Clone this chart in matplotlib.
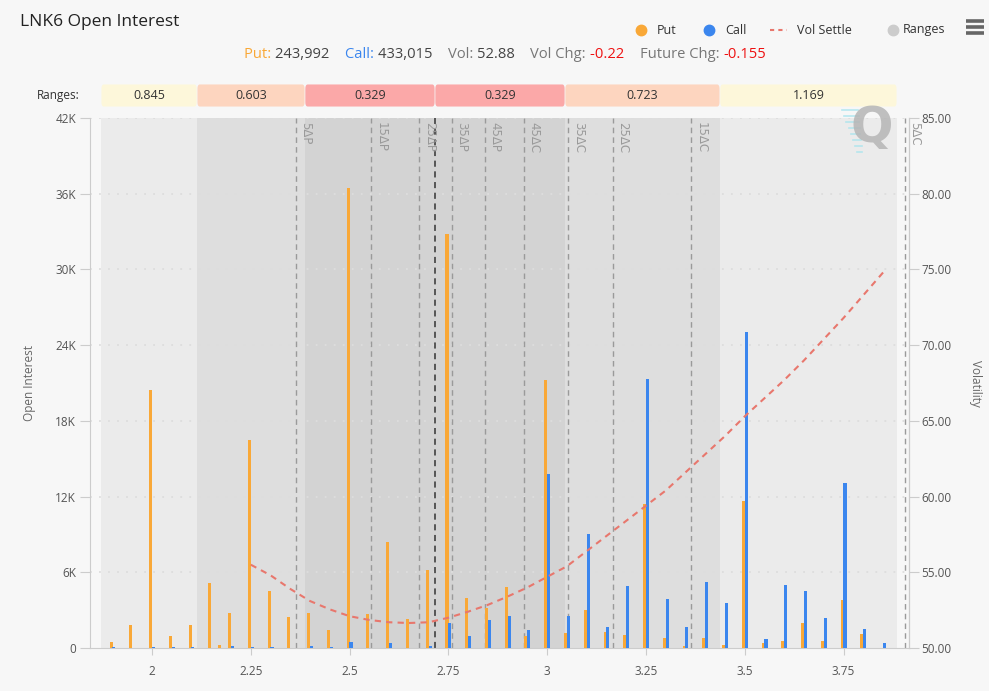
import matplotlib
matplotlib.use("Agg")
import matplotlib.pyplot as plt
from matplotlib.patches import FancyBboxPatch
from matplotlib.lines import Line2D
import matplotlib.transforms as mtransforms

plt.rcParams['font.family'] = ['Open Sans', 'DejaVu Sans']

# ---------------- data ----------------
strikes = [1.9, 1.95, 2.0, 2.05, 2.1, 2.15, 2.175, 2.2, 2.25, 2.3, 2.35, 2.4, 2.45,
           2.5, 2.55, 2.6, 2.65, 2.7, 2.75, 2.8, 2.85, 2.9, 2.95, 3.0, 3.05, 3.1,
           3.15, 3.2, 3.25, 3.3, 3.35, 3.4, 3.45, 3.5, 3.55, 3.6, 3.65, 3.7, 3.75,
           3.8, 3.85]
puts = [450, 1800, 20450, 980, 1800, 5170, 240, 2800, 16480, 4520, 2430, 2800, 1430,
        36450, 2700, 8400, 2300, 6180, 32800, 4000, 3140, 4800, 950, 21240, 1210, 3010,
        1270, 1060, 11400, 790, 160, 770, 240, 11670, 420, 530, 2000, 530, 3800,
        1110, 0]
calls = [60, 0, 80, 60, 60, 0, 0, 120, 60, 60, 0, 150, 80, 450, 0, 370, 0, 150, 1980,
         980, 2220, 2500, 1430, 13760, 2540, 9010, 1640, 4910, 21340, 3860, 1690, 5260,
         3540, 25070, 690, 4990, 4520, 2350, 13050, 1530, 370]

vol_strikes = [2.25, 2.3, 2.35, 2.4, 2.45, 2.5, 2.55, 2.6, 2.65, 2.7, 2.75, 2.8, 2.85,
               2.9, 2.95, 3.0, 3.05, 3.1, 3.15, 3.2, 3.25, 3.3, 3.35, 3.4, 3.45, 3.5,
               3.55, 3.6, 3.65, 3.7, 3.75, 3.8, 3.85]
vol_settle = [55.5, 54.8, 53.9, 53.1, 52.55, 52.1, 51.85, 51.7, 51.65, 51.7, 52.0, 52.4,
              52.85, 53.4, 54.0, 54.7, 55.4, 56.4, 57.4, 58.4, 59.4, 60.4, 61.6, 62.8,
              64.0, 65.3, 66.5, 67.7, 69.0, 70.4, 71.8, 73.3, 74.8]

range_edges = [1.871, 2.114, 2.387, 2.716, 3.045, 3.437, 3.885]
range_labels = ['0.845', '0.603', '0.329', '0.329', '0.723', '1.169']
range_box_colors = ['#fdf7da', '#fdd5bf', '#fba8a8', '#fba8a8', '#fdd5bf', '#fdf7da']
range_band_colors = ['#ebebeb', '#dedede', '#d3d3d3', '#d3d3d3', '#dedede', '#ebebeb']

delta_pos = [2.364, 2.554, 2.676, 2.759, 2.843, 2.941, 3.053, 3.166, 3.364, 3.905]
delta_labels = ['5ΔP', '15ΔP', '25ΔP', '35ΔP', '45ΔP', '45ΔC', '35ΔC', '25ΔC', '15ΔC', '5ΔC']
future_price = 2.716

oi_ticks = [0, 6000, 12000, 18000, 24000, 30000, 36000, 42000]
oi_tick_labels = ['0', '6K', '12K', '18K', '24K', '30K', '36K', '42K']
vol_ticks = [50, 55, 60, 65, 70, 75, 80, 85]
x_ticks = [2, 2.25, 2.5, 2.75, 3, 3.25, 3.5, 3.75]
x_tick_labels = ['2', '2.25', '2.5', '2.75', '3', '3.25', '3.5', '3.75']

# ---------------- figure ----------------
W, H = 989, 691
BG = '#f7f7f7'
PUT_C = '#f9a837'
CALL_C = '#3b86ee'
fig = plt.figure(figsize=(W / 100, H / 100), dpi=100, facecolor=BG)

def fx(px):
    return px / W

def fy(py):
    return 1 - py / H

L, R, T, B = 90, 909, 118, 648
ax = fig.add_axes([fx(L), fy(B), fx(R - L), fy(T) - fy(B)])
ax.set_facecolor(BG)
xmin, xmax = 1.8431, 3.9155
ax.set_xlim(xmin, xmax)
ax.set_ylim(0, 42000)

# bands
for i in range(len(range_labels)):
    ax.axvspan(range_edges[i], range_edges[i + 1], color=range_band_colors[i], lw=0, zorder=0)

# grid
for t in oi_ticks[1:]:
    ax.axhline(t, color='#dddddd', lw=1.3, ls=(0, (1, 4)), zorder=1)

# bars
bw = 0.0078
off = 0.0036
ax.bar([s - off for s in strikes], puts, width=bw, color=PUT_C, zorder=3, lw=0)
ax.bar([s + off for s in strikes], calls, width=bw, color=CALL_C, zorder=3, lw=0)

# delta lines
trans = mtransforms.blended_transform_factory(ax.transData, ax.transAxes)
for p, lab in zip(delta_pos, delta_labels):
    ax.axvline(p, color='#9a9a9a', lw=1, ls=(0, (4, 3)), zorder=2)
    ax.text(p + 0.009, 0.992, lab, transform=trans, rotation=-90, ha='left', va='top',
            fontsize=8.5, color='#9a9a9a', zorder=4, family=['DejaVu Sans'])
ax.axvline(future_price, color='#333333', lw=1.1, ls=(0, (4, 3)), zorder=2)

# axes styling
ax.spines['top'].set_visible(False)
ax.spines['left'].set_color('#cccccc')
ax.spines['bottom'].set_color('#cccccc')
ax.spines['right'].set_color('#cccccc')
ax.set_yticks(oi_ticks)
ax.set_yticklabels(oi_tick_labels)
ax.set_xticks(x_ticks)
ax.set_xticklabels(x_tick_labels)
ax.tick_params(axis='y', length=7, color='#cccccc', labelsize=8.5, labelcolor='#555555', pad=3)
ax.tick_params(axis='x', length=5, color='#cccccc', labelsize=8.5, labelcolor='#555555', pad=7)
ax.set_ylabel('Open Interest', fontsize=8.5, color='#666666', labelpad=14)

# volatility axis
ax2 = ax.twinx()
ax2.set_ylim(50, 85)
ax2.set_yticks(vol_ticks)
ax2.set_yticklabels([f'{v:.2f}' for v in vol_ticks])
ax2.tick_params(axis='y', length=7, color='#cccccc', labelsize=8.5, labelcolor='#555555', pad=2)
for side in ['top', 'left', 'bottom']:
    ax2.spines[side].set_visible(False)
ax2.spines['right'].set_color('#cccccc')
ax2.set_ylabel('Volatility', fontsize=8.5, color='#666666', rotation=-90, labelpad=22)
ax2.plot(vol_strikes, vol_settle, color='#e8776d', lw=1.5, ls=(0, (3, 2.5)), zorder=5)

# Q watermark
fig.text(fx(872), fy(128), 'Q', fontsize=36, fontweight='bold', color='#b5b5b5',
         ha='center', va='center', alpha=0.85, family=['DejaVu Sans'])
for k in range(8):
    y = 110 + k * 6
    x1 = 842 + k * 2.2
    fig.add_artist(Line2D([fx(x1), fx(x1 + 16 - k * 1.6)], [fy(y), fy(y)],
                          color='#a8e4ee', lw=1.2, alpha=0.8))

# ranges bar
rax = fig.add_axes([fx(L), fy(107), fx(R - L), fy(84) - fy(107)])
rax.set_xlim(xmin, xmax)
rax.set_ylim(0, 1)
rax.axis('off')
for i, lab in enumerate(range_labels):
    x0, x1 = range_edges[i], range_edges[i + 1]
    rax.add_patch(FancyBboxPatch((x0 + 0.001, 0.02), x1 - x0 - 0.002, 0.96,
                                 boxstyle='round,pad=0,rounding_size=0.006',
                                 mutation_aspect=30,
                                 fc=range_box_colors[i], ec='none'))
    rax.text((x0 + x1) / 2, 0.5, lab, ha='center', va='center', fontsize=9, color='#333333')
fig.text(fx(80), fy(95), 'Ranges:', ha='right', va='center', fontsize=8.5, color='#333333')

# title
fig.text(fx(20), fy(22), 'LNK6 Open Interest', ha='left', va='center', fontsize=12.5,
         color='#222222')

# legend
def leg_dot(x, y, c):
    fig.add_artist(Line2D([fx(x)], [fy(y)], marker='o', ms=7.5, color=c, lw=0))

leg_dot(641, 30, PUT_C)
fig.text(fx(657), fy(30), 'Put', ha='left', va='center', fontsize=9, color='#333333')
leg_dot(709, 30, CALL_C)
fig.text(fx(725), fy(30), 'Call', ha='left', va='center', fontsize=9, color='#333333')
fig.add_artist(Line2D([fx(770), fx(787)], [fy(30), fy(30)], color='#e8776d', lw=1.5,
                      ls=(0, (2, 2))))
fig.text(fx(797), fy(30), 'Vol Settle', ha='left', va='center', fontsize=9, color='#333333')
leg_dot(893, 30, '#cccccc')
fig.text(fx(903), fy(30), 'Ranges', ha='left', va='center', fontsize=9, color='#333333')
for yy in (21, 27, 33):
    fig.add_artist(Line2D([fx(966), fx(984)], [fy(yy), fy(yy)], color='#666666', lw=2.6,
                          solid_capstyle='butt'))

# subtitle
pieces = [('Put: ', PUT_C), ('243,992    ', '#444444'), ('Call: ', CALL_C),
          ('433,015    ', '#444444'), ('Vol: ', '#777777'), ('52.88    ', '#444444'),
          ('Vol Chg: ', '#777777'), ('-0.22    ', '#ee1111'), ('Future Chg: ', '#777777'),
          ('-0.155', '#ee1111')]
renderer = fig.canvas.get_renderer()
texts = []
for s, c in pieces:
    t = fig.text(0, fy(55), s, ha='left', va='center', fontsize=10.6, color=c)
    texts.append(t)
widths = [t.get_window_extent(renderer=renderer).width for t in texts]
total = sum(widths)
cur = 505 - total / 2
for t, w in zip(texts, widths):
    t.set_x(fx(cur))
    cur += w

fig.savefig('out.png', dpi=100, facecolor=BG)
